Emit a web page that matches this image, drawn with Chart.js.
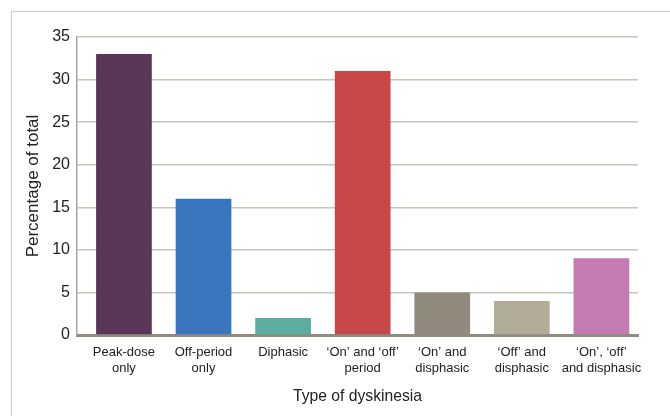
<!DOCTYPE html>
<html>
<head>
<meta charset="utf-8">
<script src="https://cdn.jsdelivr.net/npm/chart.js@4"></script>
<style>
  html, body { margin: 0; padding: 0; background: #fff; }
  #wrap { position: relative; width: 670px; height: 416px; overflow: hidden; }
  #frame { position: absolute; left: 11px; top: 11px; width: 700px; height: 450px;
           border-left: 1.5px solid #cfccc4; border-top: 1.5px solid #cfccc4; }
  canvas { position: absolute; left: 0; top: 0; }
</style>
</head>
<body>
<div id="wrap">
  <div id="frame"></div>
  <canvas id="bar-chart" width="670" height="416"></canvas>
</div>
<script>
// data
var categories = [
  ["Peak-dose", "only"],
  ["Off-period", "only"],
  "Diphasic",
  ["\u2018On\u2019 and \u2018off\u2019", "period"],
  ["\u2018On\u2019 and", "disphasic"],
  ["\u2018Off\u2019 and", "disphasic"],
  ["\u2018On\u2019, \u2018off\u2019", "and disphasic"]
];
var values = [33, 16, 2, 31, 5, 4, 9];
var barColors = ["#5a3758", "#3a76be", "#5cac9f", "#c84849", "#8f8a7c", "#b1ab98", "#c47bb2"];
var yTicks = [0, 5, 10, 15, 20, 25, 30, 35];

var font = "'Liberation Sans', Arial, sans-serif";

new Chart(document.getElementById("bar-chart"), {
  type: 'bar',
  data: {
    labels: categories,
    datasets: [{
      data: values,
      backgroundColor: barColors,
      barPercentage: 0.7,
      categoryPercentage: 1
    }]
  },
  options: {
    responsive: false,
    animation: false,
    layout: { padding: { top: 37, right: 32, left: 0, bottom: 0 } },
    plugins: {
      legend: { display: false },
      tooltip: { enabled: false }
    },
    scales: {
      x: {
        grid: { display: false },
        border: { color: '#8f8b80', width: 3 },
        // the original leaves a bit more room before the first bar than after the last
        afterBuildTicks: function(scale) {
          scale._startValue = -0.59;
          scale._valueRange = 7.05;
        },
        ticks: {
          color: '#222',
          font: { family: font, size: 13 },
          maxRotation: 0,
          autoSkip: false,
          padding: 2
        },
        title: {
          display: true,
          text: 'Type of dyskinesia',
          color: '#222',
          font: { family: font, size: 15.7 },
          padding: { top: 0, bottom: 10 }
        },
        afterFit: function(scale) { scale.height = 81; }
      },
      y: {
        min: yTicks[0],
        max: yTicks[yTicks.length - 1],
        afterBuildTicks: function(scale) {
          scale.ticks = yTicks.map(function(v) { return { value: v }; });
        },
        grid: { color: '#c8c4b9', lineWidth: 1.5, drawTicks: false },
        border: { color: '#a9a59a', width: 1.5 },
        ticks: {
          color: '#222',
          font: { family: font, size: 16 },
          padding: 7
        },
        title: {
          display: true,
          text: 'Percentage of total',
          color: '#222',
          font: { family: font, size: 17 },
          padding: { top: 23, bottom: 0 }
        },
        afterFit: function(scale) { scale.width = 77; }
      }
    }
  }
});
</script>
</body>
</html>
